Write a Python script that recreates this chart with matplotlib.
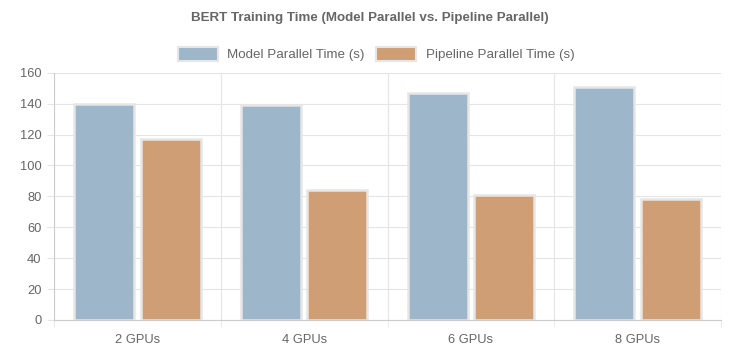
import matplotlib
matplotlib.use('Agg')
from matplotlib import pyplot as plt
from matplotlib.patches import Patch
import numpy as np

# valores
categorias = ['2 GPUs', '4 GPUs', '6 GPUs', '8 GPUs']
tempo_model = [140, 139, 147, 151]
tempo_pipeline = [117, 84, 81, 78]
rotulos = ['Model Parallel Time (s)', 'Pipeline Parallel Time (s)']

COR_MODEL = '#9db6ca'
COR_PIPE = '#cf9e75'
COR_BORDA = '#e6e6e6'
COR_TEXTO = '#666666'
COR_GRADE = '#e5e5e5'
COR_EIXO = '#cccccc'

plt.rcParams['font.family'] = ['Liberation Sans', 'DejaVu Sans']

fig = plt.figure(figsize=(7.41, 3.53), dpi=100)
ax = fig.add_axes([54 / 741, 33 / 353, 667 / 741, 247.3 / 353])

x = np.arange(len(categorias))
larg = 0.36
ax.bar(x - 0.2, tempo_model, larg, color=COR_MODEL, edgecolor=COR_BORDA,
       linewidth=1.8, zorder=3)
ax.bar(x + 0.2, tempo_pipeline, larg, color=COR_PIPE, edgecolor=COR_BORDA,
       linewidth=1.8, zorder=3)

ax.set_xlim(-0.5, len(categorias) - 0.5)
ax.set_ylim(0, 160)
ax.set_yticks(np.arange(0, 161, 20))
ax.set_xticks(x)
ax.set_xticklabels(categorias)
ax.set_xticks(np.arange(-0.5, len(categorias), 1.0), minor=True)

ax.tick_params(axis='x', which='major', length=0, pad=10, labelsize=9.3, labelcolor=COR_TEXTO)
ax.tick_params(axis='x', which='minor', length=5, color=COR_GRADE)
ax.tick_params(axis='y', length=5, color=COR_GRADE, pad=4, labelsize=9.3, labelcolor=COR_TEXTO)

ax.grid(axis='y', color=COR_GRADE, linewidth=0.8, zorder=0)
ax.grid(axis='x', which='minor', color=COR_GRADE, linewidth=0.8, zorder=0)
ax.grid(axis='x', which='major', visible=False)

for lado in ['top', 'right']:
    ax.spines[lado].set_visible(False)
for lado in ['left', 'bottom']:
    ax.spines[lado].set_color(COR_EIXO)
    ax.spines[lado].set_linewidth(0.8)

fig.text(370 / 741, 1 - 18 / 353, 'BERT Training Time (Model Parallel vs. Pipeline Parallel)',
         ha='center', va='center', fontsize=9.6, fontweight='bold', color=COR_TEXTO)

handles = [Patch(facecolor=COR_MODEL, edgecolor=COR_BORDA, linewidth=1.5),
           Patch(facecolor=COR_PIPE, edgecolor=COR_BORDA, linewidth=1.5)]
fig.legend(handles, rotulos, loc='center', bbox_to_anchor=(376 / 741, 1 - 54 / 353),
           ncol=2, frameon=False, fontsize=9.6, labelcolor=COR_TEXTO,
           handlelength=3.0, handleheight=1.2, handletextpad=0.7, columnspacing=0.9)

fig.savefig('out.png', dpi=100)
